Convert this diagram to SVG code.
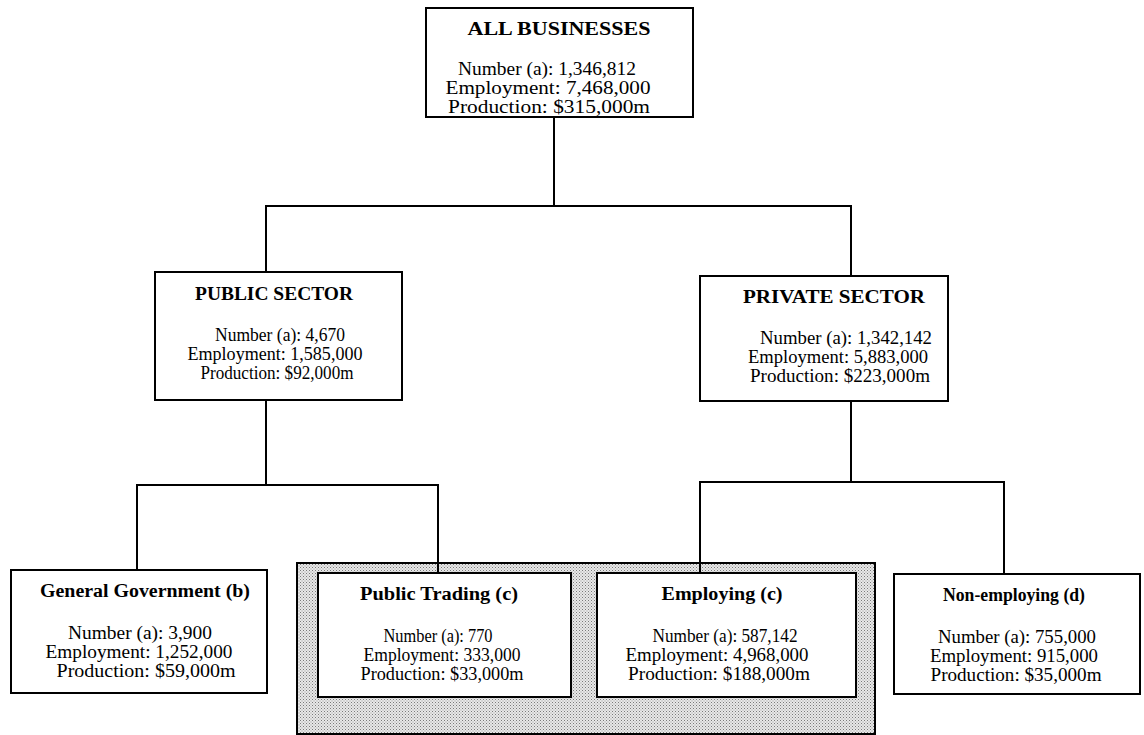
<svg xmlns="http://www.w3.org/2000/svg" width="1144" height="735" viewBox="0 0 1144 735">
<defs>
<pattern id="dots" x="0" y="0" width="3" height="3" patternUnits="userSpaceOnUse">
<rect width="3" height="3" fill="#e8e8e8"/>
<rect x="0" y="0" width="1" height="1" fill="#7a7a7a"/>
<rect x="1.5" y="1.5" width="1" height="1" fill="#9a9a9a"/>
</pattern>
</defs>
<style>
.box{fill:#fff;stroke:#000;stroke-width:2}
.ln{fill:none;stroke:#000;stroke-width:2}
text{font-family:"Liberation Serif","Times New Roman",serif;font-size:18px;fill:#000;text-anchor:middle}
.t{font-weight:bold}
</style>
<rect id="shade" x="297" y="563" width="578" height="171" fill="url(#dots)" stroke="#000" stroke-width="2"/>
<g id="connectors">
<polyline class="ln" points="554,117 554,206"/>
<polyline class="ln" points="266,272 266,206 851,206 851,276"/>
<polyline class="ln" points="266,400 266,485"/>
<polyline class="ln" points="137,570 137,485 438,485 438,573"/>
<polyline class="ln" points="851,401 851,482"/>
<polyline class="ln" points="700,573 700,482 1004,482 1004,574"/>
</g>
<g id="all">
<rect class="box" x="426" y="8" width="267" height="109"/>
<text class="t" x="559" y="35" textLength="183" lengthAdjust="spacingAndGlyphs">ALL BUSINESSES</text>
<text x="547" y="75" textLength="178" lengthAdjust="spacingAndGlyphs">Number (a): 1,346,812</text>
<text x="548" y="94" textLength="205" lengthAdjust="spacingAndGlyphs">Employment: 7,468,000</text>
<text x="549" y="113" textLength="202" lengthAdjust="spacingAndGlyphs">Production: $315,000m</text>
</g>
<g id="public">
<rect class="box" x="155" y="272" width="247" height="128"/>
<text class="t" x="274" y="300" textLength="158" lengthAdjust="spacingAndGlyphs">PUBLIC SECTOR</text>
<text x="280" y="341" textLength="130" lengthAdjust="spacingAndGlyphs">Number (a): 4,670</text>
<text x="275" y="360" textLength="175" lengthAdjust="spacingAndGlyphs">Employment: 1,585,000</text>
<text x="277" y="379" textLength="153" lengthAdjust="spacingAndGlyphs">Production: $92,000m</text>
</g>
<g id="private">
<rect class="box" x="700" y="276" width="248" height="125"/>
<text class="t" x="834" y="303" textLength="182" lengthAdjust="spacingAndGlyphs">PRIVATE SECTOR</text>
<text x="846" y="344" textLength="172" lengthAdjust="spacingAndGlyphs">Number (a): 1,342,142</text>
<text x="838" y="363" textLength="180" lengthAdjust="spacingAndGlyphs">Employment: 5,883,000</text>
<text x="840" y="382" textLength="180" lengthAdjust="spacingAndGlyphs">Production: $223,000m</text>
</g>
<g id="general">
<rect class="box" x="11" y="570" width="256" height="123"/>
<text class="t" x="145" y="597" textLength="210" lengthAdjust="spacingAndGlyphs">General Government (b)</text>
<text x="140" y="639" textLength="144" lengthAdjust="spacingAndGlyphs">Number (a): 3,900</text>
<text x="139" y="658" textLength="187" lengthAdjust="spacingAndGlyphs">Employment: 1,252,000</text>
<text x="146" y="677" textLength="179" lengthAdjust="spacingAndGlyphs">Production: $59,000m</text>
</g>
<g id="trading">
<rect class="box" x="318" y="573" width="253" height="124"/>
<text class="t" x="439" y="600" textLength="158" lengthAdjust="spacingAndGlyphs">Public Trading (c)</text>
<text x="438" y="642" textLength="109" lengthAdjust="spacingAndGlyphs">Number (a): 770</text>
<text x="442" y="661" textLength="157" lengthAdjust="spacingAndGlyphs">Employment: 333,000</text>
<text x="442" y="680" textLength="163" lengthAdjust="spacingAndGlyphs">Production: $33,000m</text>
</g>
<g id="employing">
<rect class="box" x="597" y="573" width="259" height="124"/>
<text class="t" x="722" y="600" textLength="121" lengthAdjust="spacingAndGlyphs">Employing (c)</text>
<text x="725" y="642" textLength="145" lengthAdjust="spacingAndGlyphs">Number (a): 587,142</text>
<text x="717" y="661" textLength="183" lengthAdjust="spacingAndGlyphs">Employment: 4,968,000</text>
<text x="719" y="680" textLength="182" lengthAdjust="spacingAndGlyphs">Production: $188,000m</text>
</g>
<g id="nonemploying">
<rect class="box" x="894" y="574" width="246" height="120"/>
<text class="t" x="1014" y="601" textLength="142" lengthAdjust="spacingAndGlyphs">Non-employing (d)</text>
<text x="1017" y="643" textLength="158" lengthAdjust="spacingAndGlyphs">Number (a): 755,000</text>
<text x="1014" y="662" textLength="168" lengthAdjust="spacingAndGlyphs">Employment: 915,000</text>
<text x="1016" y="681" textLength="171" lengthAdjust="spacingAndGlyphs">Production: $35,000m</text>
</g>
</svg>
